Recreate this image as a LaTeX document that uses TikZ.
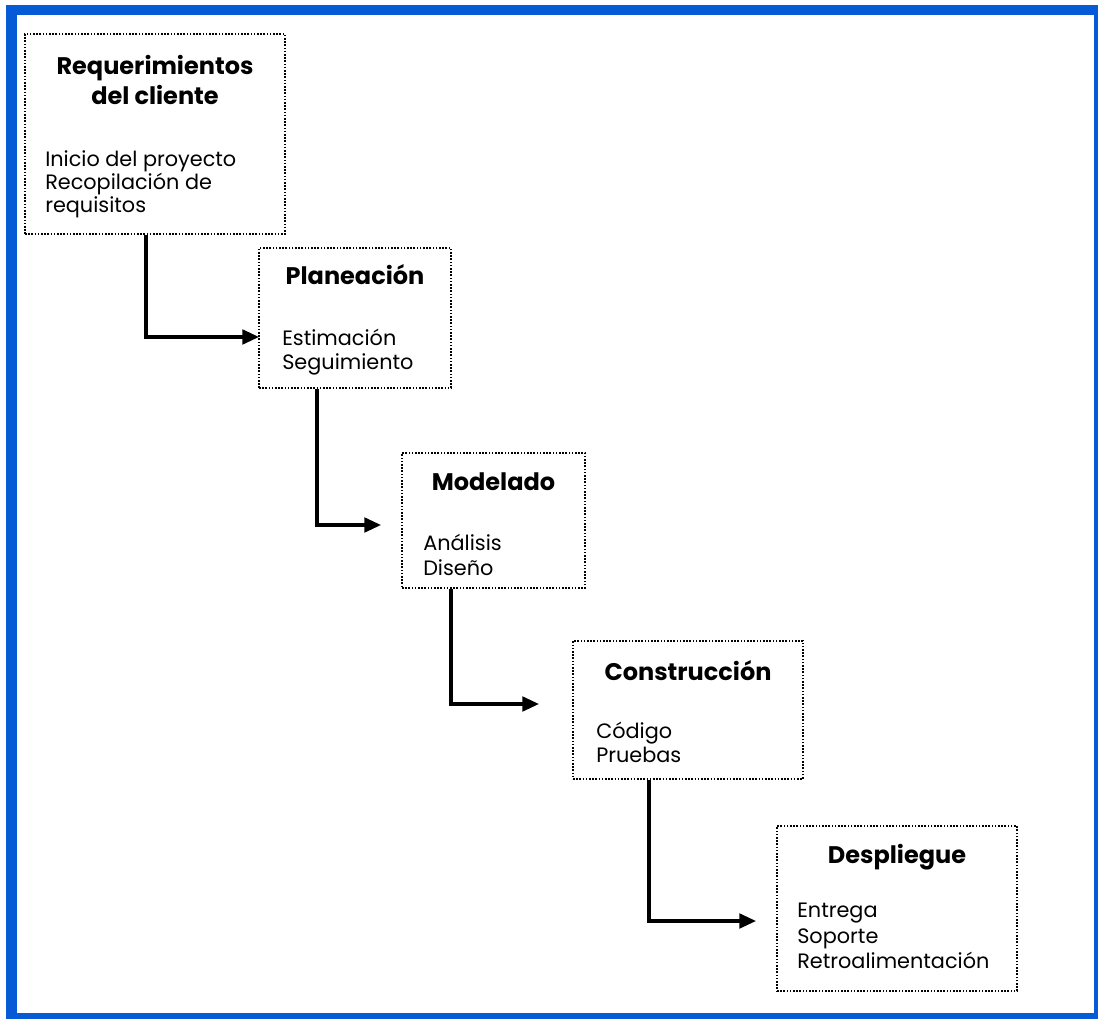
\documentclass[tikz,border=0pt]{standalone}
\usepackage{fontspec}
\setmainfont{Poppins}
\usetikzlibrary{arrows.meta,calc}
\definecolor{frameblue}{RGB}{6,90,214}
\begin{document}
\begin{tikzpicture}[x=0.75pt,y=-0.75pt,
  phase/.style={draw=black, line width=1.2pt, dash pattern=on 1.2pt off 1.2pt,
    inner sep=0pt, fill=white},
  title/.style={anchor=base, inner sep=0pt, font=\fontsize{18pt}{21pt}\selectfont\bfseries},
  item/.style={anchor=base west, inner sep=0pt, font=\fontsize{15.6pt}{18pt}\selectfont},
  flow/.style={line width=2.3pt, -{Triangle[length=12.5pt,width=11pt]}}]
\useasboundingbox (0,0) rectangle (1098,1019);
% page frame
\fill[white] (0,0) rectangle (1098,1019);
\fill[frameblue] (6,5) rectangle (1098,1019);
\fill[white] (17,15) rectangle (1094,1013);

% phase boxes
\node[phase, minimum width=195pt, minimum height=150pt] (b1) at (155,134) {};
\node[phase, minimum width=144pt, minimum height=105pt] (b2) at (355,318) {};
\node[phase, minimum width=137.25pt, minimum height=101.25pt] (b3) at (493.5,520.5) {};
\node[phase, minimum width=172.5pt, minimum height=103.5pt] (b4) at (688,710) {};
\node[phase, minimum width=180pt, minimum height=123.75pt] (b5) at (897,908.5) {};

% box contents
\node[title] (h1a) at (155,75) {Requerimientos};
\node[title] (h1b) at (155,105) {del cliente};
\node[item] (i1a) at (45,167) {Inicio del proyecto};
\node[item] (i1b) at (45,190) {Recopilación de};
\node[item] (i1c) at (45,213) {requisitos};

\node[title] (h2) at (355,285) {Planeación};
\node[item] (i2a) at (282,346) {Estimación};
\node[item] (i2b) at (282,370) {Seguimiento};

\node[title] (h3) at (493.5,490) {Modelado};
\node[item] (i3a) at (423,550) {Análisis};
\node[item] (i3b) at (423,575) {Diseño};

\node[title] (h4) at (688,680) {Construcción};
\node[item] (i4a) at (596,738) {Código};
\node[item] (i4b) at (596,762) {Pruebas};

\node[title] (h5) at (897,863) {Despliegue};
\node[item] (i5a) at (797,917) {Entrega};
\node[item] (i5b) at (797,943) {Soporte};
\node[item] (i5c) at (797,968) {Retroalimentación};

% arrow ends
\coordinate (e1) at (259,337);
\coordinate (e2) at (381,525);
\coordinate (e3) at (539,704);
\coordinate (e4) at (756,921);

% connectors
\draw[flow] ($(b1.south)+(-9,0)$) |- (e1);
\draw[flow] ($(b2.south)+(-38,0)$) |- (e2);
\draw[flow] ($(b3.south)+(-42.5,0)$) |- (e3);
\draw[flow] ($(b4.south)+(-39,0)$) |- (e4);
\end{tikzpicture}
\end{document}
